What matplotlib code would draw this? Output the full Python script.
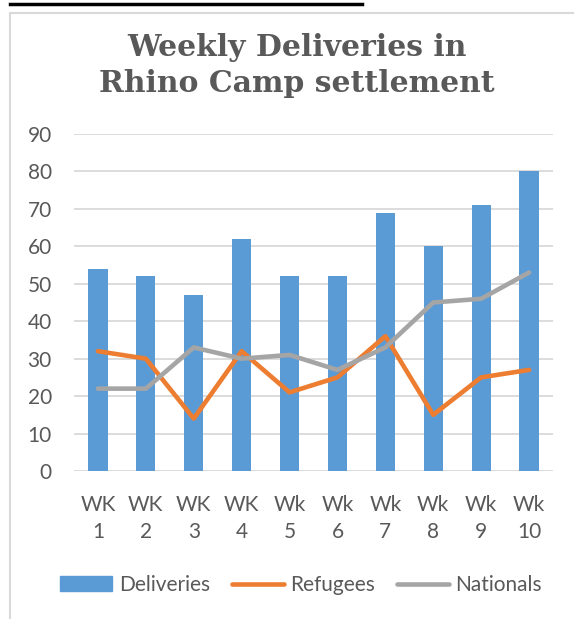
import numpy as np
import matplotlib.pyplot as plt
from matplotlib.lines import Line2D

weeks = ['WK\n1', 'WK\n2', 'WK\n3', 'WK\n4', 'Wk\n5', 'Wk\n6', 'Wk\n7', 'Wk\n8', 'Wk\n9', 'Wk\n10']
deliveries = [54, 52, 47, 62, 52, 52, 69, 60, 71, 80]
refugees = [32, 30, 14, 32, 21, 25, 36, 15, 25, 27]
nationals = [22, 22, 33, 30, 31, 27, 33, 45, 46, 53]

blue = '#5b9bd5'
orange = '#ed7d31'
grey = '#a5a5a5'
txt = '#595959'

plt.rcParams['font.family'] = ['Lato', 'DejaVu Sans']

fig = plt.figure(figsize=(5.74, 6.19), dpi=100)
ax = fig.add_axes([74 / 574, 1 - 471 / 619, 479 / 574, 337 / 619])

x = np.arange(len(weeks))
ax.bar(x, deliveries, width=0.4, color=blue, zorder=2, label='Deliveries')
ax.plot(x, refugees, color=orange, lw=3.3, solid_capstyle='round', solid_joinstyle='round', zorder=3)
ax.plot(x, nationals, color=grey, lw=3.3, solid_capstyle='round', solid_joinstyle='round', zorder=3)

ax.set_xlim(-0.5, len(weeks) - 0.5)
ax.set_ylim(0, 90)
ax.set_yticks(range(0, 91, 10))
ax.set_xticks(x)
ax.set_xticklabels(weeks, linespacing=1.45)
ax.grid(axis='y', color='#d9d9d9', lw=1.3, zorder=0)
for s in ax.spines.values():
    s.set_visible(False)
ax.tick_params(axis='both', length=0, labelsize=15, colors=txt)
ax.tick_params(axis='y', pad=16)
ax.tick_params(axis='x', pad=17)

# title
fig.text(297 / 574, 1 - 48 / 619, 'Weekly Deliveries in', ha='center', va='center',
         fontsize=21.5, fontweight='bold', family='DejaVu Serif', color=txt)
fig.text(297 / 574, 1 - 84 / 619, 'Rhino Camp settlement', ha='center', va='center',
         fontsize=21.5, fontweight='bold', family='DejaVu Serif', color=txt)

# legend
handles = [
    plt.Rectangle((0, 0), 1, 1, color=blue),
    Line2D([0], [0], color=orange, lw=3.3, solid_capstyle='round'),
    Line2D([0], [0], color=grey, lw=3.3, solid_capstyle='round'),
]
leg = fig.legend(handles, ['Deliveries', 'Refugees', 'Nationals'], loc='center',
                 bbox_to_anchor=(301 / 574, 1 - 585 / 619), ncol=3, frameon=False,
                 fontsize=15, handlelength=2.5, handletextpad=0.3, columnspacing=1.05,
                 handleheight=0.7)
for t in leg.get_texts():
    t.set_color(txt)

# frame of the chart box
fig.add_artist(Line2D([10 / 574, 10 / 574], [0, 1 - 13 / 619], color='#d9d9d9', lw=1.5))
fig.add_artist(Line2D([10 / 574, 1], [1 - 13 / 619, 1 - 13 / 619], color='#d9d9d9', lw=1.5))
fig.add_artist(Line2D([10 / 574, 362 / 574], [1 - 4 / 619, 1 - 4 / 619], color='black', lw=2.5))

fig.savefig('out.png', dpi=100)
